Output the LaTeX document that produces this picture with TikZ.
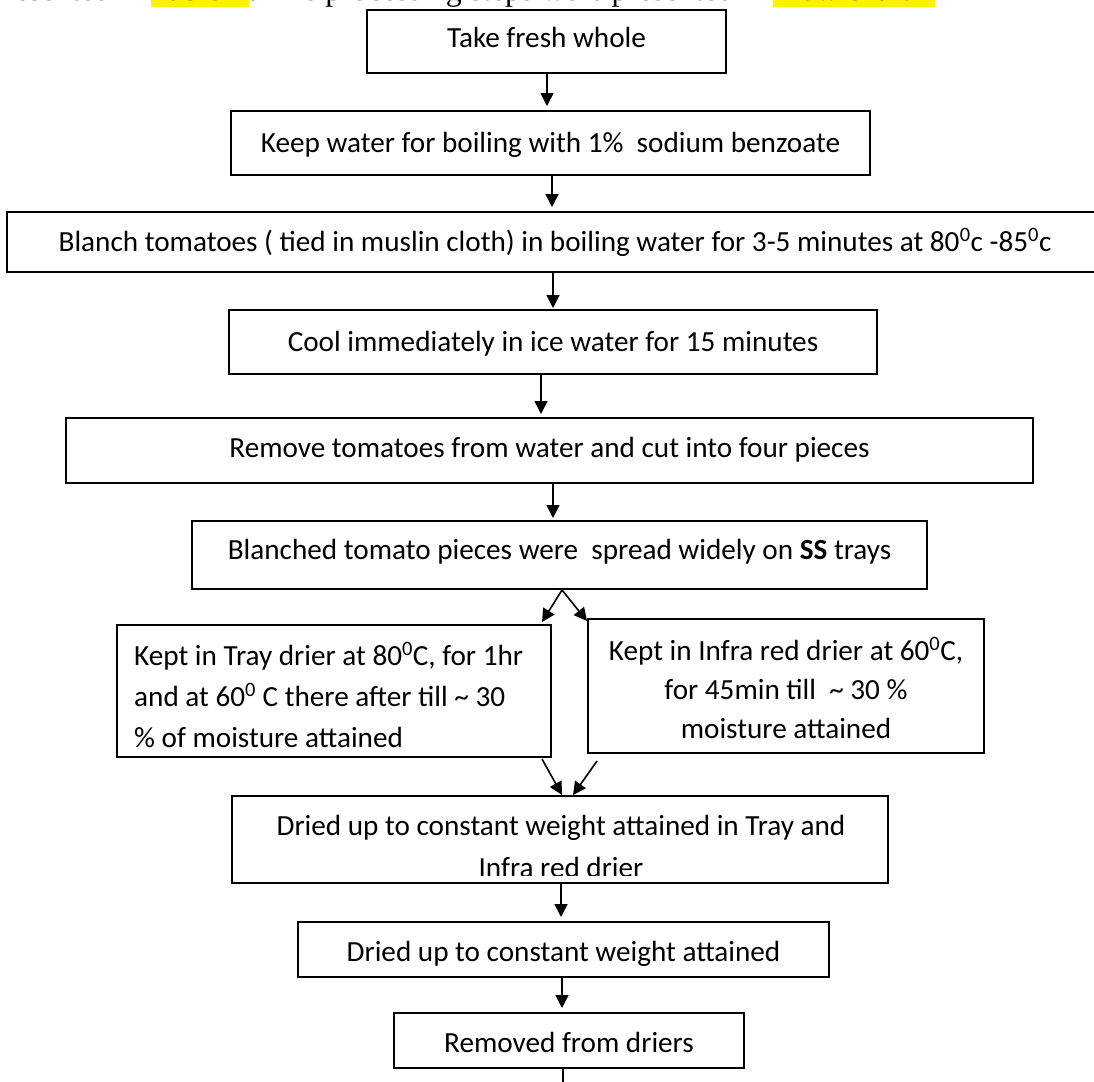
\documentclass[tikz,border=0pt]{standalone}
\usepackage{fontspec}
\setmainfont{Carlito}
\newfontfamily\topserif{Liberation Serif}
\usetikzlibrary{arrows.meta}
\begin{document}
\begin{tikzpicture}[x=1pt,y=-1pt,
  box/.style={draw, line width=2pt, inner sep=0pt, font=\fontsize{29.2}{40}\selectfont, text height=21pt, text depth=3pt},
  emptybox/.style={draw, line width=2pt, inner sep=0pt},
  txt/.style={inner sep=0pt, font=\fontsize{29.2}{40}\selectfont},
  toptxt/.style={inner sep=0pt, font=\topserif\fontsize{31.9}{36}\selectfont},
  hl/.style={fill=yellow},
  arr/.style={line width=1.6pt, -{Triangle[length=13pt,width=13pt]}},
  plainline/.style={line width=1.6pt}
]
\useasboundingbox (0,0) rectangle (1094,1081);

% cut-off line of running text at the top
\fill[hl] (151,0) rectangle (249,7.5);
\fill[hl] (773,0) rectangle (935,7.5);
\node[toptxt, anchor=base west] (t1) at (-12,0.5) {presented in};
\node[toptxt, anchor=base west] (t2) at (151,0.5) {Table 1};
\node[toptxt, anchor=base west] (t3) at (249,0.5) {. The processing steps were presented in};
\node[toptxt, anchor=base west] (t4) at (773,0.5) {Flow chart 1};

% boxes
\node[box, minimum width=359pt, minimum height=63pt, text depth=8pt] (b1) at (546.5,41.5) {Take fresh whole};
\node[box, minimum width=639pt, minimum height=64pt] (b2) at (550.5,143) {Keep water for boiling with 1\%~ sodium benzoate};
\node[box, minimum width=1096pt, minimum height=60pt] (b3) at (555,242) {Blanch tomatoes ( tied in muslin cloth) in boiling water for 3-5 minutes at 80\textsuperscript{0}c -85\textsuperscript{0}c};
\node[box, minimum width=648pt, minimum height=64pt] (b4) at (553,342) {Cool immediately in ice water for 15 minutes};
\node[box, minimum width=967pt, minimum height=65pt, text depth=8pt] (b5) at (549.5,450.5) {Remove tomatoes from water and cut into four pieces};
\node[box, minimum width=735pt, minimum height=68pt, text depth=13pt] (b6) at (559.5,555) {Blanched tomato pieces were~ spread widely on \textbf{SS} trays};

\node[emptybox, minimum width=434pt, minimum height=132pt] (L) at (334,691) {};
\node[txt, anchor=base west] (l1) at (134,665) {Kept in Tray drier at 80\textsuperscript{0}C, for 1hr};
\node[txt, anchor=base west] (l2) at (134,706) {and at 60\textsuperscript{0} C there after till \textasciitilde{} 30};
\node[txt, anchor=base west] (l3) at (134,747) {\% of moisture attained};

\node[emptybox, minimum width=396pt, minimum height=134pt] (R) at (786,686) {};
\node[txt, anchor=base] (r1) at (786,660) {Kept in Infra red drier at 60\textsuperscript{0}C,};
\node[txt, anchor=base] (r2) at (786,699) {for 45min till~ \textasciitilde{} 30 \%};
\node[txt, anchor=base] (r3) at (786,738) {moisture attained};

\node[emptybox, minimum width=656pt, minimum height=87pt] (D1) at (560,839.5) {};
\node[txt, anchor=base] (d1a) at (561,835) {Dried up to constant weight attained in Tray and};
\begin{scope}
  \clip (300,840) rectangle (820,875);
  \node[txt, anchor=base] (d1b) at (561,877) {Infra red drier};
\end{scope}

\node[box, minimum width=531pt, minimum height=55pt, text height=26pt] (D2) at (563.5,949.5) {Dried up to constant weight attained};
\node[box, minimum width=350pt, minimum height=55pt, text height=26pt] (RM) at (569,1040.5) {Removed from driers};
\coordinate (endpt) at (563,1090);

% connectors
\draw[arr] ([xshift=0.5pt]b1.south) -- ([xshift=-3.5pt,yshift=4pt]b2.north);
\draw[arr] ([xshift=1.5pt]b2.south) -- ([xshift=-3pt,yshift=4pt]b3.north);
\draw[arr] ([xshift=-2pt]b3.south) -- ([xshift=0pt,yshift=1pt]b4.north);
\draw[arr] ([xshift=-12pt]b4.south) -- ([xshift=-8.5pt,yshift=3pt]b5.north);
\draw[arr] ([xshift=3.5pt]b5.south) -- ([xshift=-6.5pt,yshift=2pt]b6.north);
\draw[arr] ([xshift=2.5pt]b6.south) -- ([xshift=-10pt,yshift=2pt]L.north east);
\draw[arr] ([xshift=2.5pt]b6.south) -- ([yshift=-3pt]R.north west);
\draw[arr] ([xshift=-10pt,yshift=-1pt]L.south east) -- ([xshift=2pt]D1.north);
\draw[arr] ([xshift=10pt,yshift=-7pt]R.south west) -- ([xshift=13pt]D1.north);
\draw[arr] ([xshift=1pt]D1.south) -- ([xshift=-2.5pt,yshift=4pt]D2.north);
\draw[arr] ([xshift=-1.5pt]D2.south) -- ([xshift=-7pt,yshift=4pt]RM.north);
\draw[plainline] ([xshift=-6pt]RM.south) -- (endpt);
\end{tikzpicture}
\end{document}
